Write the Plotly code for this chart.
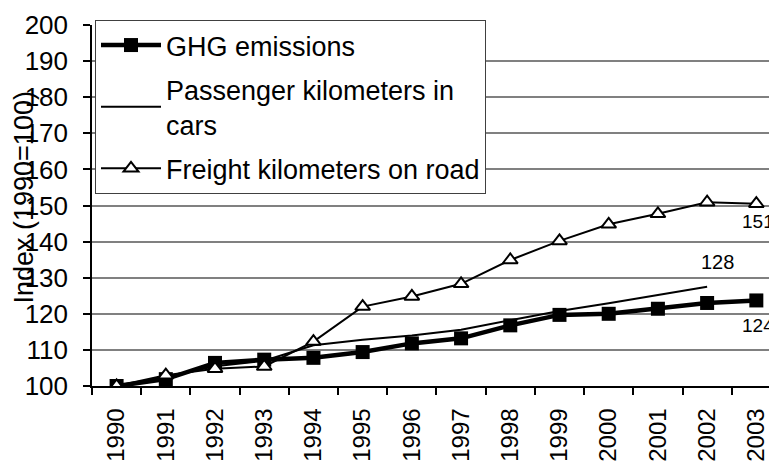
import plotly.graph_objects as go

years = ["1990", "1991", "1992", "1993", "1994", "1995", "1996",
         "1997", "1998", "1999", "2000", "2001", "2002", "2003"]
ghg = [100, 101.9, 106.4, 107.3, 107.8, 109.4, 111.8,
       113.2, 116.8, 119.7, 120.0, 121.4, 123.0, 123.7]
passenger = [100, 102.5, 105.5, 107.0, 111.3, 112.8, 114.0,
             115.6, 118.2, 120.8, 122.9, 125.2, 127.5, None]
freight = [100, 103.0, 104.8, 105.4, 112.3, 122.0, 124.8,
           128.3, 134.9, 140.2, 144.8, 147.7, 150.9, 150.5]

series_names = ["GHG emissions", "Passenger kilometers in<br>cars",
                "Freight kilometers on road"]
end_labels = ["124", "128", "151"]

FONT = "Liberation Sans, Arial, sans-serif"

fig = go.Figure()
fig.add_trace(go.Scatter(
    x=years, y=ghg, name=series_names[0], mode="lines+markers",
    line=dict(color="black", width=4.5),
    marker=dict(symbol="square", size=14, color="black"),
    legendgroup="a"))
fig.add_trace(go.Scatter(
    x=years, y=passenger, name=series_names[1], mode="lines",
    line=dict(color="black", width=2), legendgroup="b"))
fig.add_trace(go.Scatter(
    x=years, y=freight, name=series_names[2], mode="lines+markers",
    line=dict(color="black", width=2),
    marker=dict(symbol="triangle-up", size=13, color="white",
                line=dict(color="black", width=2)),
    legendgroup="c"))

# end-value labels
fig.add_annotation(x=13, y=ghg[13], text=end_labels[0], showarrow=False,
                   xanchor="left", yanchor="middle", xshift=-16, yshift=-25,
                   font=dict(family=FONT, size=19, color="black"))
fig.add_annotation(x=12, y=passenger[12], text=end_labels[1], showarrow=False,
                   xanchor="left", yanchor="middle", xshift=-8, yshift=25,
                   font=dict(family=FONT, size=20, color="black"))
fig.add_annotation(x=13, y=freight[13], text=end_labels[2], showarrow=False,
                   xanchor="left", yanchor="middle", xshift=-16, yshift=-18,
                   font=dict(family=FONT, size=19, color="black"))

# y-axis title placed overlapping the tick labels as in the original
fig.add_annotation(xref="paper", yref="paper", x=(23 - 92) / 685, y=0.5,
                   text="Index (1990=100)", textangle=-90, showarrow=False,
                   xanchor="center", yanchor="middle", yshift=8,
                   font=dict(family=FONT, size=27, color="black"))

# the page has an 8px body margin, so margins are offset to compensate
fig.update_layout(
    width=777, height=461,
    margin=dict(l=84, r=8, t=17, b=83, autoexpand=False),
    paper_bgcolor="white", plot_bgcolor="white",
    font=dict(family=FONT, size=26, color="black"),
    showlegend=True,
    legend=dict(
        x=3 / 685, y=1 + 5 / 361, xanchor="left", yanchor="top",
        bgcolor="white", bordercolor="#404040", borderwidth=1,
        font=dict(family=FONT, size=27, color="black"),
        tracegroupgap=6, itemwidth=60,
    ),
    xaxis=dict(
        type="category", range=[-0.5, 13.42],
        tickangle=-90, tickson="boundaries", ticks="outside", ticklen=7,
        tickcolor="black", tickwidth=1.5, ticklabelstandoff=11,
        showline=True, linecolor="black", linewidth=1.5,
        showgrid=False, tickfont=dict(family=FONT, size=24, color="black"),
    ),
    yaxis=dict(
        range=[100, 200], dtick=10, tick0=100,
        ticks="outside", ticklen=7, tickcolor="black", tickwidth=1.5,
        ticklabelstandoff=10,
        showline=True, linecolor="black", linewidth=1.5,
        showgrid=True, gridcolor="#808080", gridwidth=1.5,
        zeroline=False, tickfont=dict(family=FONT, size=26, color="black"),
    ),
)

fig.write_html("out.html")
